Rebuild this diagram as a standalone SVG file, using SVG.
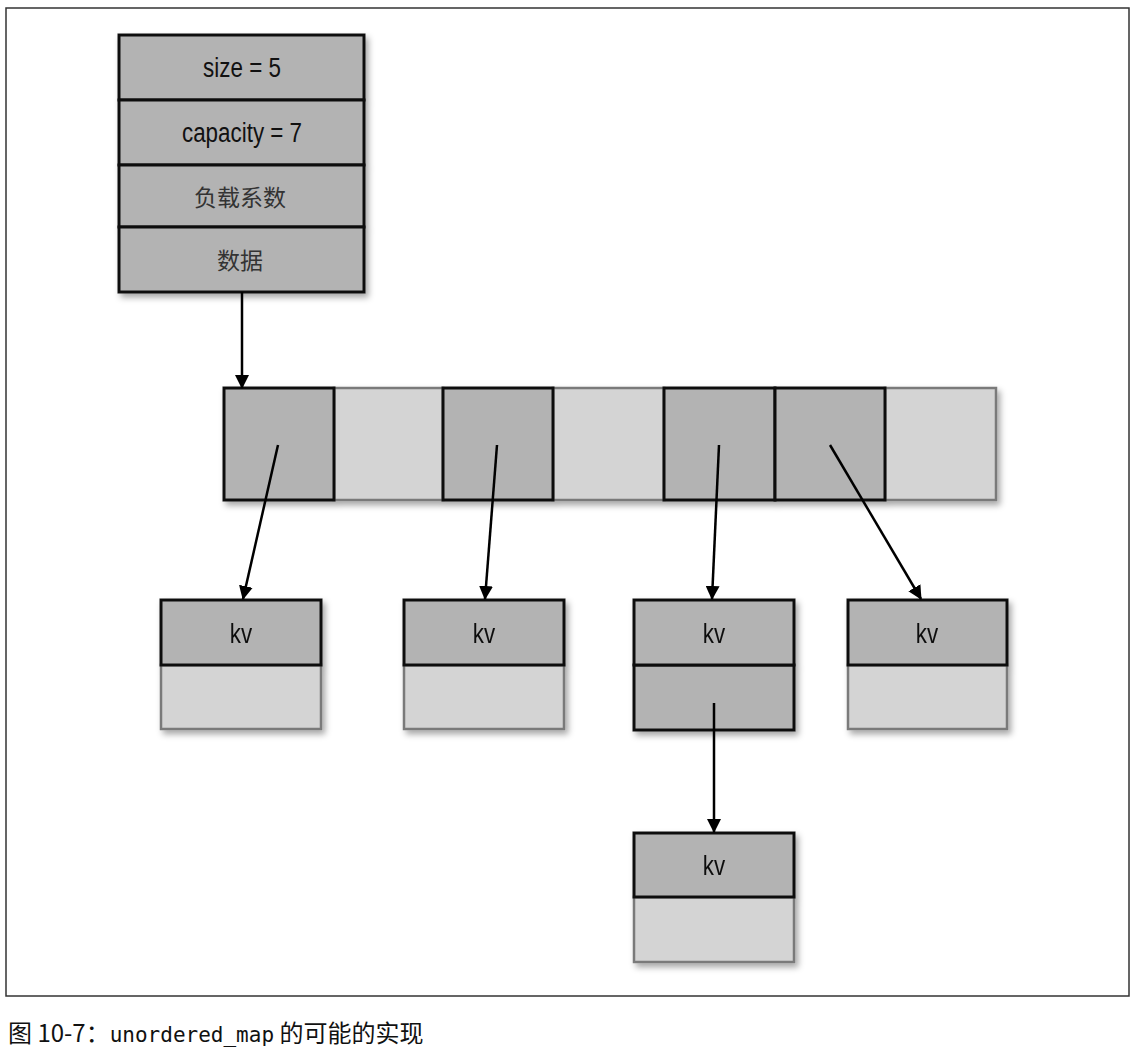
<svg xmlns="http://www.w3.org/2000/svg" width="1139" height="1056" viewBox="0 0 1139 1056">
<style>
.dk{fill:#b3b3b3;stroke:#111;stroke-width:3}
.lt{fill:#d4d4d4;stroke:#7a7a7a;stroke-width:2.5}
.lbl{font-family:"Liberation Sans","Noto Sans CJK SC",sans-serif;font-size:28px;fill:#111;text-anchor:middle}
.cn{font-family:"Noto Sans CJK SC",sans-serif;font-size:23px;fill:#333;text-anchor:middle}
.edge{stroke:#000;stroke-width:2.5;fill:none;marker-end:url(#ah)}
.sh{filter:url(#ds)}
</style>
<defs>
<marker id="ah" viewBox="0 0 14 14" refX="13" refY="7" markerWidth="14" markerHeight="14" markerUnits="userSpaceOnUse" orient="auto">
<path d="M0,0 L14,7 L0,14 Z" fill="#000"/>
</marker>
<filter id="ds" x="-10%" y="-10%" width="125%" height="130%">
<feDropShadow dx="3" dy="4" stdDeviation="3" flood-color="#000" flood-opacity="0.35"/>
</filter>
</defs>
<rect x="6" y="8" width="1123" height="988" fill="#fff" stroke="#333" stroke-width="1.5"/>

<g id="header" class="sh">
<rect class="dk" x="119" y="35" width="245" height="65"/>
<rect class="dk" x="119" y="100" width="245" height="65"/>
<rect class="dk" x="119" y="165" width="245" height="62"/>
<rect class="dk" x="119" y="227" width="245" height="65"/>
</g>
<g id="header-text">
<text class="lbl" transform="translate(242,77) scale(0.8,1)">size = 5</text>
<text class="lbl" transform="translate(242,142) scale(0.8,1)">capacity = 7</text>
<text class="cn" x="240" y="206">负载系数</text>
<text class="cn" x="240" y="269">数据</text>
</g>

<g id="buckets" class="sh">
<rect class="lt" x="334" y="388" width="109" height="112"/>
<rect class="lt" x="553" y="388" width="111" height="112"/>
<rect class="lt" x="885" y="388" width="111" height="112"/>
<rect class="dk" x="224" y="388" width="110" height="112"/>
<rect class="dk" x="443" y="388" width="110" height="112"/>
<rect class="dk" x="664" y="388" width="111" height="112"/>
<rect class="dk" x="775" y="388" width="110" height="112"/>
</g>

<g id="kv1" class="sh">
<rect class="lt" x="161" y="665" width="160" height="64"/>
<rect class="dk" x="161" y="600" width="160" height="65"/>
<text class="lbl" transform="translate(241,643) scale(0.8,1)">kv</text>
</g>
<g id="kv2" class="sh">
<rect class="lt" x="404" y="665" width="160" height="64"/>
<rect class="dk" x="404" y="600" width="160" height="65"/>
<text class="lbl" transform="translate(484,643) scale(0.8,1)">kv</text>
</g>
<g id="kv3" class="sh">
<rect class="dk" x="634" y="665" width="160" height="65"/>
<rect class="dk" x="634" y="600" width="160" height="65"/>
<text class="lbl" transform="translate(714,643) scale(0.8,1)">kv</text>
</g>
<g id="kv4" class="sh">
<rect class="lt" x="848" y="665" width="159" height="64"/>
<rect class="dk" x="848" y="600" width="159" height="65"/>
<text class="lbl" transform="translate(927,643) scale(0.8,1)">kv</text>
</g>
<g id="kv5" class="sh">
<rect class="lt" x="634" y="897" width="160" height="65"/>
<rect class="dk" x="634" y="833" width="160" height="64"/>
<text class="lbl" transform="translate(714,875) scale(0.8,1)">kv</text>
</g>

<g id="connectors">
<line class="edge" x1="242" y1="292" x2="242" y2="388"/>
<line class="edge" x1="278" y1="445" x2="243" y2="599"/>
<line class="edge" x1="497" y1="445" x2="485" y2="599"/>
<line class="edge" x1="719" y1="445" x2="712" y2="599"/>
<line class="edge" x1="830" y1="445" x2="921" y2="599"/>
<line class="edge" x1="714" y1="703" x2="714" y2="832"/>
</g>

<text x="8" y="1042" font-size="24" fill="#111" font-family="'Noto Sans CJK SC','Noto Sans',sans-serif">图 10-7：<tspan font-family="'DejaVu Sans Mono','Liberation Mono',monospace" font-size="21">unordered_map</tspan> 的可能的实现</text>
</svg>
